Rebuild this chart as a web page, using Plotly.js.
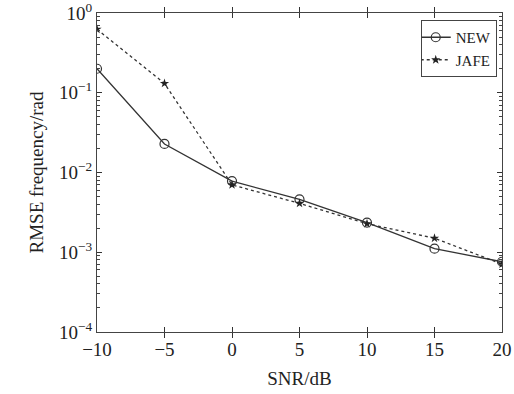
<!DOCTYPE html>
<html><head><meta charset="utf-8">
<script src="https://cdn.plot.ly/plotly-3.0.1.min.js"></script>
<style>html,body{margin:0;padding:0;background:#fff}#c{width:514px;height:394px}</style>
</head><body><div id="c"></div>
<script>
const snr = [-10, -5, 0, 5, 10, 15, 20];
const rmseNEW = [0.2, 0.0228, 0.0078, 0.0046, 0.00235, 0.00111, 0.00076];
const rmseJAFE = [0.625, 0.131, 0.0070, 0.0041, 0.00228, 0.0015, 0.00071];
const yTickVals = [1e-4, 1e-3, 1e-2, 1e-1, 1];
const yTickText = ['10<sup>−4</sup>', '10<sup>−3</sup>', '10<sup>−2</sup>', '10<sup>−1</sup>', '10<sup>0</sup>'];
const xTickVals = [-10, -5, 0, 5, 10, 15, 20];
const xTickText = ['−10', '−5', '0', '5', '10', '15', '20'];

const minorVals = [];
for (let e = -4; e < 0; e++) for (let m = 2; m <= 9; m++) minorVals.push(m * Math.pow(10, e));

const font = {family: "'Liberation Serif', serif", color: '#222'};
const traces = [
  {x: snr, y: rmseNEW, name: 'NEW', mode: 'lines+markers', type: 'scatter',
   line: {color: '#333', width: 1.3},
   marker: {symbol: 'circle-open', size: 9, color: '#333', line: {width: 1.2}}},
  {x: snr, y: rmseJAFE, name: 'JAFE', mode: 'lines+markers', type: 'scatter',
   line: {color: '#333', width: 1.3, dash: 'dot'},
   marker: {symbol: 'star', size: 7, color: '#222'}},
  {x: [], y: [], yaxis: 'y2', showlegend: false, hoverinfo: 'skip', type: 'scatter', mode: 'lines'}
];
const layout = {
  width: 514, height: 394,
  margin: {l: 97, r: 12, t: 13, b: 62},
  paper_bgcolor: '#fff', plot_bgcolor: '#fff',
  font: Object.assign({size: 18}, font),
  showlegend: true,
  legend: {x: 0.987, y: 0.978, xanchor: 'right', yanchor: 'top',
    bordercolor: '#444', borderwidth: 1, bgcolor: '#fff',
    font: Object.assign({size: 15}, font), tracegroupgap: 0,
    itemwidth: 30, indentation: -6},
  xaxis: {range: [-10, 20], tickvals: xTickVals, ticktext: xTickText,
    ticks: 'inside', ticklen: 5, tickcolor: '#333', tickwidth: 1, showline: true, linecolor: '#444', linewidth: 1,
    mirror: 'allticks', showgrid: false, zeroline: false,
    title: {text: 'SNR/dB', font: Object.assign({size: 19}, font), standoff: 12},
    tickfont: Object.assign({size: 19}, font), ticklabeloverflow: 'allow'},
  yaxis: {type: 'log', range: [-4, 0], tickvals: yTickVals, ticktext: yTickText,
    ticks: 'inside', ticklen: 5, tickcolor: '#333', tickwidth: 1, showline: true, linecolor: '#444', linewidth: 1,
    mirror: 'allticks', showgrid: false, zeroline: false,
    title: {text: 'RMSE frequency/rad', font: Object.assign({size: 19}, font), standoff: 10},
    tickfont: Object.assign({size: 19}, font), ticklabeloverflow: 'allow'},
  yaxis2: {type: 'log', range: [-4, 0], overlaying: 'y', anchor: 'x', side: 'left',
    tickmode: 'array', tickvals: minorVals, showticklabels: false,
    ticks: 'inside', ticklen: 3, tickcolor: '#444', tickwidth: 1, mirror: 'allticks',
    showline: false, showgrid: false, zeroline: false}
};
Plotly.newPlot('c', traces, layout, {displayModeBar: false, staticPlot: true});
</script></body></html>
